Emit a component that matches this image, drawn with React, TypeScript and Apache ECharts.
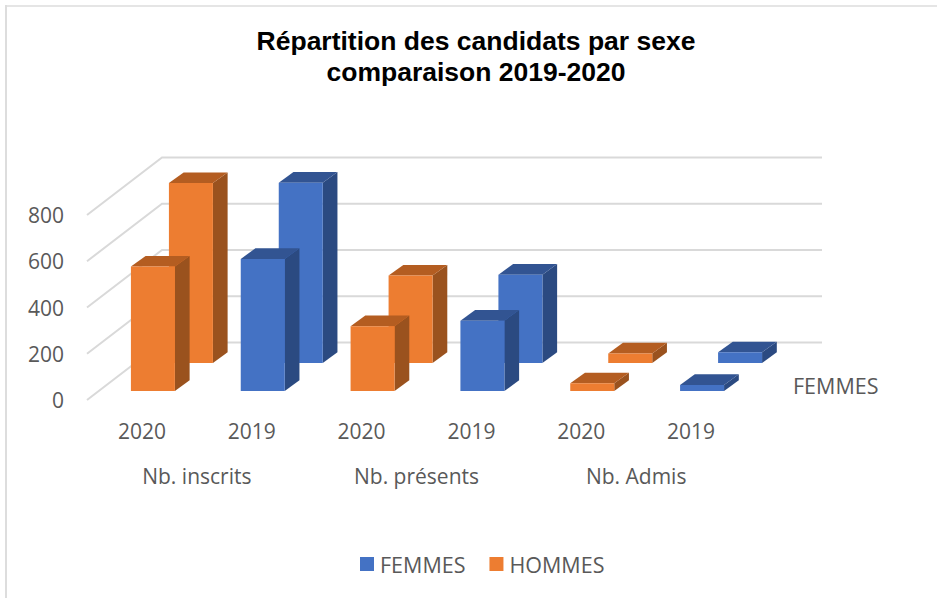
import React, { useEffect, useRef } from "react";
import * as echarts from "echarts";

const titleText = "Répartition des candidats par sexe\ncomparaison 2019-2020";
const years = ["2020", "2019", "2020", "2019", "2020", "2019"];
const groups = ["Nb. inscrits", "Nb. présents", "Nb. Admis"];
const femmes = [538, 571, 280, 304, 33, 26];
const hommes = [778, 780, 378, 382, 41, 46];
const yTicks = [0, 200, 400, 600, 800];
const depthLabel = "FEMMES";

const UI = "'Open Sans', sans-serif";
const INK = "#595959";
const palette: Record<string, { face: string; side: string; top: string }> = {
  "2020": { face: "#ED7D31", side: "#9A521E", top: "#B45D21" },
  "2019": { face: "#4472C4", side: "#2B4A81", top: "#325492" },
};

function box(shiftX: number, shiftY: number) {
  const BAR_W = 44;
  const DX = 14.7;
  const DY = 10.7;
  return (params: any, api: any) => {
    const idx = api.value(0);
    const c = palette[years[idx]];
    const top = api.coord([idx, api.value(1)]);
    const base = api.coord([idx, 0]);
    const l = top[0] + shiftX - BAR_W / 2;
    const r = l + BAR_W;
    const t = top[1] + shiftY;
    const b = base[1] + shiftY;
    return {
      type: "group",
      children: [
        { type: "polygon", shape: { points: [[r, t], [r + DX, t - DY], [r + DX, b - DY], [r, b]] }, style: { fill: c.side } },
        { type: "polygon", shape: { points: [[l, t], [l + DX, t - DY], [r + DX, t - DY], [r, t]] }, style: { fill: c.top } },
        { type: "rect", shape: { x: l, y: t, width: BAR_W, height: b - t }, style: { fill: c.face } },
      ],
    };
  };
}

function wall(params: any, api: any) {
  const p = api.coord([0, api.value(0)]);
  const left = params.coordSys.x;
  const right = left + params.coordSys.width;
  const WX = 75;
  const WY = 57.5;
  return {
    type: "polyline",
    shape: { points: [[left, p[1]], [left + WX, p[1] - WY], [right + WX + 1, p[1] - WY]] },
    style: { fill: "none", stroke: "#D9D9D9", lineWidth: 2 },
  };
}

export default function App() {
  const ref = useRef<HTMLDivElement>(null);
  useEffect(() => {
    const chart = echarts.init(ref.current!, undefined, { renderer: "svg" });
    chart.setOption({
      animation: false,
      backgroundColor: "#fff",
      title: {
        text: titleText,
        left: 471,
        top: 20,
        textAlign: "center",
        textStyle: { fontFamily: "'Liberation Sans', Arial, sans-serif", fontWeight: "bold", fontSize: 26.5, lineHeight: 31, color: "#000" },
      },
      legend: {
        data: ["FEMMES", "HOMMES"],
        left: 355,
        top: 548,
        icon: "rect",
        itemWidth: 14,
        itemHeight: 14,
        itemGap: 24,
        textStyle: { fontFamily: UI, fontSize: 21.5, color: INK, padding: [0, 0, 0, 1] },
      },
      grid: { left: 87, top: 215, width: 659, height: 185, containLabel: false },
      xAxis: [
        {
          type: "category",
          data: years,
          position: "bottom",
          axisLine: { show: false },
          axisTick: { show: false },
          axisLabel: { fontFamily: UI, fontSize: 21, color: INK, margin: 20, interval: 0 },
        },
        {
          type: "category",
          data: groups,
          position: "bottom",
          axisLine: { show: false },
          axisTick: { show: false },
          axisLabel: { fontFamily: UI, fontSize: 21, color: INK, margin: 65, interval: 0 },
        },
      ],
      yAxis: {
        type: "value",
        min: 0,
        max: 800,
        interval: 200,
        axisLine: { show: false },
        axisTick: { show: false },
        splitLine: { show: false },
        axisLabel: { fontFamily: UI, fontSize: 21, color: INK, margin: 23 },
      },
      series: [
        { type: "custom", name: "wall", silent: true, z: 1, renderItem: wall, data: yTicks.map((v) => [v]), encode: { y: 0 } },
        { type: "custom", name: "HOMMES", z: 2, itemStyle: { color: palette["2020"].face }, renderItem: box(49, -37), data: hommes.map((v, i) => [i, v]), encode: { x: 0, y: 1 } },
        { type: "custom", name: "FEMMES", z: 3, itemStyle: { color: palette["2019"].face }, renderItem: box(11, -9), data: femmes.map((v, i) => [i, v]), encode: { x: 0, y: 1 } },
      ],
      graphic: [
        { type: "text", left: 793, top: 374, style: { text: depthLabel, font: `21.5px ${UI}`, fill: INK } },
        { type: "line", shape: { x1: 6, y1: 5, x2: 6, y2: 598 }, style: { stroke: "#DDDDDD", lineWidth: 2 } },
        { type: "line", shape: { x1: 5, y1: 6, x2: 937, y2: 6 }, style: { stroke: "#DDDDDD", lineWidth: 1.6 } },
      ],
    });
    return () => chart.dispose();
  }, []);
  return <div ref={ref} style={{ position: "absolute", left: 0, top: 0, width: 937, height: 598 }} />;
}
